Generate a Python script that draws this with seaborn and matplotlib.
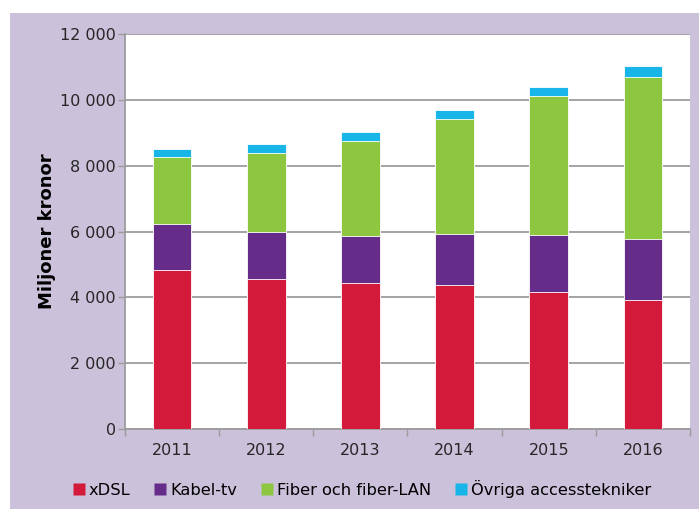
import matplotlib
matplotlib.use("Agg")
import matplotlib.pyplot as plt
from matplotlib.patches import Rectangle
from matplotlib.lines import Line2D
from matplotlib.ticker import FuncFormatter, FixedLocator
import seaborn as sns
import pandas as pd
import numpy as np

years = ["2011", "2012", "2013", "2014", "2015", "2016"]
series_names = ["xDSL", "Kabel-tv", "Fiber och fiber-LAN", "Övriga accesstekniker"]
xdsl = [4820, 4560, 4430, 4370, 4150, 3920]
kabel = [1410, 1440, 1440, 1540, 1730, 1850]
fiber = [2030, 2400, 2880, 3510, 4250, 4920]
ovriga = [250, 265, 265, 265, 255, 325]
colors = ["#D31A3A", "#652D89", "#8DC63F", "#17B5E8"]
y_label = "Miljoner kronor"
y_ticks = [0, 2000, 4000, 6000, 8000, 10000, 12000]

sns.set_theme(style="white")
plt.rcParams["font.family"] = ["DejaVu Sans"]

lav = "#CBC1DA"
fig = plt.figure(figsize=(6.99, 5.09), dpi=100)
fig.patch.set_facecolor("white")
fig.patches.append(Rectangle((10 / 699, 0), 689 / 699, 496 / 509, transform=fig.transFigure,
                             facecolor=lav, edgecolor="none", zorder=-10))

ax = fig.add_axes([125 / 699, (509 - 429) / 509, 565 / 699, 395 / 509])
ax.set_facecolor("white")

df = pd.DataFrame({"year": years, "xdsl": xdsl, "kabel": kabel, "fiber": fiber, "ovriga": ovriga})
layers = [df["xdsl"], df["kabel"], df["fiber"], df["ovriga"]]
cum = np.cumsum(np.array(layers, dtype=float), axis=0)
for i in range(3, -1, -1):
    sns.barplot(x=df["year"], y=cum[i], color=colors[i], width=0.41, ax=ax,
                edgecolor="white", linewidth=0.6, saturation=1, zorder=3)

ax.set_ylim(0, 12000)
ax.set_xlim(-0.5, 5.5)
ax.yaxis.set_major_locator(FixedLocator(y_ticks))
ax.yaxis.set_major_formatter(FuncFormatter(lambda v, p: f"{int(v):,}".replace(",", " ")))
ax.grid(axis="y", color="#9C9C9C", linewidth=1.3, zorder=0)
ax.set_axisbelow(True)
ax.set_xlabel("")
ax.set_ylabel(y_label, fontsize=13, fontweight="bold", color="black", labelpad=3)

for s in ["top", "right"]:
    ax.spines[s].set_visible(False)
for s in ["left", "bottom"]:
    ax.spines[s].set_color("#9C9C9C")
    ax.spines[s].set_linewidth(1.3)

ax.tick_params(axis="y", which="major", direction="out", length=5, width=1, color="#9C9C9C",
               labelsize=11.5, labelcolor="#262626", pad=1.5, left=True)
ax.tick_params(axis="x", which="major", length=0, labelsize=11.5, labelcolor="#262626", pad=10)
ax.set_xticks(np.arange(-0.5, 6.0, 1.0), minor=True)
ax.tick_params(axis="x", which="minor", direction="out", length=5, width=1, color="#9C9C9C", bottom=True)

handles = [Line2D([0], [0], marker="s", linestyle="none", markersize=8, markerfacecolor=c,
                  markeredgecolor="none") for c in colors]
fig.legend(handles, series_names, loc="center", bbox_to_anchor=(362 / 699, 20 / 509), ncol=4,
           frameon=False, fontsize=11.7, handlelength=0.7, handletextpad=0.25, columnspacing=1.5,
           labelcolor="black")

fig.savefig("out.png", dpi=100, facecolor=fig.get_facecolor())
